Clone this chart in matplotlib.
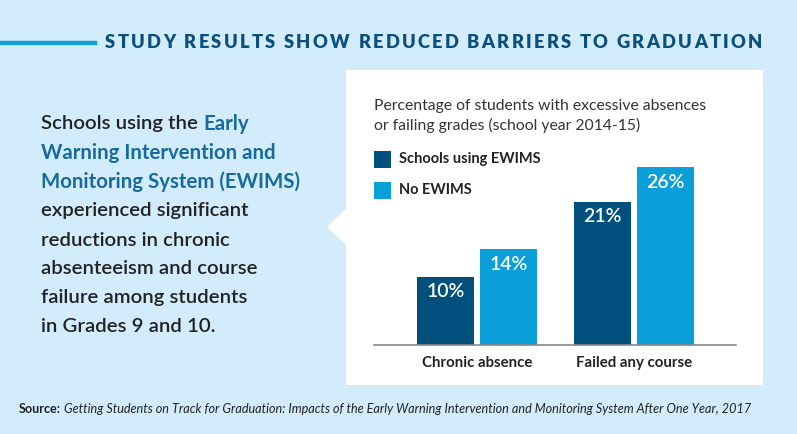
import matplotlib.pyplot as plt
from matplotlib.patches import Rectangle, Polygon
from matplotlib.lines import Line2D

W, H = 797, 434

categories = ["Chronic absence", "Failed any course"]
ewims = [10, 21]
no_ewims = [14, 26]
series_names = ["Schools using EWIMS", "No EWIMS"]

bg = "#d3ecfb"
navy = "#004f7c"
light = "#0a9fd8"
title_col = "#0b4f7c"
link_col = "#176a9e"
text_col = "#222222"

plt.rcParams['font.family'] = ['Lato', 'DejaVu Sans']


def fx(x):
    return x / W


def fy(y):
    # y given from the top, in pixels
    return 1 - y / H


fig = plt.figure(figsize=(W / 100, H / 100), dpi=100, facecolor=bg)
fig.canvas.draw()
renderer = fig.canvas.get_renderer()

# header, spread out to the reference width
fig.add_artist(Line2D([fx(0), fx(95)], [fy(43), fy(43)], color="#139fd6", lw=3.2,
                      transform=fig.transFigure))
title = "STUDY RESULTS SHOW REDUCED BARRIERS TO GRADUATION"
tsize = 13.2


def text_w(s, **kw):
    t = fig.text(0, 0, s, **kw)
    w = t.get_window_extent(renderer).width
    t.remove()
    return w


full_w = text_w(title, fontsize=tsize, fontweight='heavy')
spacing = (657 - full_w) / (len(title) - 1)
for i, ch in enumerate(title):
    x0 = 105 + (text_w(title[:i], fontsize=tsize, fontweight='heavy') if i else 0) + spacing * i
    fig.text(fx(x0), fy(43), ch, color=title_col, fontsize=tsize, fontweight='heavy',
             va='center', ha='left')

# white panel with pointer
fig.add_artist(Rectangle((fx(346), fy(385)), fx(763) - fx(346), fy(70) - fy(385),
                         facecolor="white", edgecolor="none", transform=fig.transFigure,
                         zorder=-2))
fig.add_artist(Polygon([(fx(347), fy(208)), (fx(327), fy(227)), (fx(347), fy(246))],
                       closed=True, facecolor="white", edgecolor="none",
                       transform=fig.transFigure, zorder=-2))

# left text
left_lines = [
    [("Schools using the ", text_col), ("Early", link_col)],
    [("Warning Intervention and", link_col)],
    [("Monitoring System (EWIMS)", link_col)],
    [("experienced significant", text_col)],
    [("reductions in chronic", text_col)],
    [("absenteeism and course", text_col)],
    [("failure among students", text_col)],
    [("in Grades 9 and 10.", text_col)],
]
for i, parts in enumerate(left_lines):
    x = 41
    y = 124 + i * 29
    for s, c in parts:
        weight = 'bold' if c == link_col else 'semibold'
        t = fig.text(fx(x), fy(y), s, color=c, fontsize=14.7, fontweight=weight,
                     va='center', ha='left')
        x += t.get_window_extent(renderer).width

# chart titles and legend
fig.text(fx(374), fy(106), "Percentage of students with excessive absences",
         fontsize=11.3, color="#333333", va='center', ha='left')
fig.text(fx(374), fy(125), "or failing grades (school year 2014-15)",
         fontsize=11.3, color="#333333", va='center', ha='left')
for i, (name, col) in enumerate(zip(series_names, [navy, light])):
    yc = 159 + i * 31
    fig.add_artist(Rectangle((fx(374), fy(yc + 8.5)), fx(17), 17 / H,
                             facecolor=col, edgecolor="none", transform=fig.transFigure))
    fig.text(fx(399), fy(yc), name, fontsize=10.5, fontweight='bold', color=text_col,
             va='center', ha='left')

# bars
ax = fig.add_axes([fx(374), fy(345), fx(736) - fx(374), 200 / H])
ax.set_facecolor("none")
pos = [0, 1]
bw = 0.363
off = 0.2006
b1 = ax.bar([p - off for p in pos], ewims, bw, color=navy)
b2 = ax.bar([p + off for p in pos], no_ewims, bw, color=light)
ax.set_xlim(-0.656, 1.65)
ax.set_ylim(0, 200 / 6.83)
for bars, vals in [(b1, ewims), (b2, no_ewims)]:
    for b, v in zip(bars, vals):
        ax.annotate(f"{v}%", (b.get_x() + b.get_width() / 2, v), xytext=(0, -15),
                    textcoords='offset pixels', ha='center', va='center',
                    color='white', fontsize=14, fontweight='semibold')
for s in ['top', 'right', 'left']:
    ax.spines[s].set_visible(False)
ax.spines['bottom'].set_color("#888888")
ax.spines['bottom'].set_linewidth(1.2)
ax.set_yticks([])
ax.set_xticks(pos)
ax.set_xticklabels(categories, fontsize=10.8, fontweight='bold', color=text_col)
ax.tick_params(axis='x', length=0, pad=8)

# source
t = fig.text(fx(19), fy(409), "Source:", fontsize=9.1, fontweight='bold', color=text_col,
             va='center', ha='left')
bb = t.get_window_extent(renderer)
fig.text(fx(19 + bb.width + 3), fy(409),
         "Getting Students on Track for Graduation: Impacts of the Early Warning "
         "Intervention and Monitoring System After One Year, 2017",
         fontsize=9.1, style='italic', color=text_col, va='center', ha='left')

fig.savefig("out.png", dpi=100, facecolor=bg)
